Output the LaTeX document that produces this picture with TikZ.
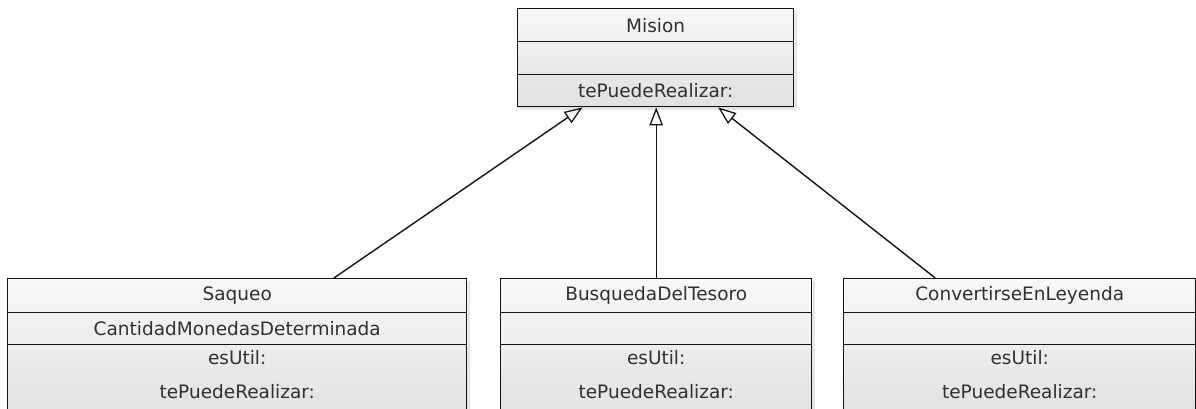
\documentclass[tikz,border=0pt]{standalone}
\usepackage{fontspec}
\setmainfont{DejaVu Sans}
\usetikzlibrary{arrows.meta,calc,backgrounds}
\definecolor{umltext}{HTML}{303030}
\definecolor{umlline}{HTML}{141414}
\definecolor{umlfilltop}{HTML}{F8F8F8}
\definecolor{umlfillbot}{HTML}{E0E0E0}
\begin{document}
\begin{tikzpicture}[x=1pt,y=-1pt,
  compart/.style={draw=umlline, line width=1.4pt, anchor=north west, inner sep=0pt,
    font=\fontsize{18.5}{21}\selectfont, text=umltext},
  oplabel/.style={inner sep=0pt, font=\fontsize{18.5}{21}\selectfont, text=umltext},
  gen/.style={draw=umlline, line width=1.4pt,
    -{Triangle[length=18pt,width=13.5pt,fill=white,line width=1.3pt]}}]
\useasboundingbox (0,0) rectangle (1196,408);

% superclass
\node[compart, minimum width=276pt, minimum height=33pt] (mision-title) at (517,8) {Mision};
\node[compart, minimum width=276pt, minimum height=33pt] (mision-attr) at (517,41) {};
\node[compart, minimum width=276pt, minimum height=32pt] (mision-ops) at (517,74) {tePuedeRealizar:};

% Saqueo
\node[compart, minimum width=459pt, minimum height=34pt] (saqueo-title) at (7,278) {Saqueo};
\node[compart, minimum width=459pt, minimum height=32pt] (saqueo-attr) at (7,312) {CantidadMonedasDeterminada};
\node[compart, minimum width=459pt, minimum height=76pt] (saqueo-ops) at (7,344) {};
\node[oplabel] (saqueo-op1) at ($(saqueo-ops.north)+(0,14)$) {esUtil:};
\node[oplabel] (saqueo-op2) at ($(saqueo-ops.north)+(0,48)$) {tePuedeRealizar:};

% BusquedaDelTesoro
\node[compart, minimum width=311pt, minimum height=34pt] (busqueda-title) at (500,278) {BusquedaDelTesoro};
\node[compart, minimum width=311pt, minimum height=32pt] (busqueda-attr) at (500,312) {};
\node[compart, minimum width=311pt, minimum height=76pt] (busqueda-ops) at (500,344) {};
\node[oplabel] (busqueda-op1) at ($(busqueda-ops.north)+(0,14)$) {esUtil:};
\node[oplabel] (busqueda-op2) at ($(busqueda-ops.north)+(0,48)$) {tePuedeRealizar:};

% ConvertirseEnLeyenda
\node[compart, minimum width=352pt, minimum height=34pt] (leyenda-title) at (843,278) {ConvertirseEnLeyenda};
\node[compart, minimum width=352pt, minimum height=32pt] (leyenda-attr) at (843,312) {};
\node[compart, minimum width=352pt, minimum height=76pt] (leyenda-ops) at (843,344) {};
\node[oplabel] (leyenda-op1) at ($(leyenda-ops.north)+(0,14)$) {esUtil:};
\node[oplabel] (leyenda-op2) at ($(leyenda-ops.north)+(0,48)$) {tePuedeRealizar:};

% shadows and gradient fill behind each class box
\begin{pgfonlayer}{background}
  \foreach \n in {mision,saqueo,busqueda,leyenda}{
    \fill[black,opacity=0.10] ($(\n-title.north west)+(3,3)$) rectangle ($(\n-ops.south east)+(3,3)$);
    \shade[top color=umlfilltop, bottom color=umlfillbot] (\n-title.north west) rectangle (\n-ops.south east);
  }
\end{pgfonlayer}

% generalisations
\draw[gen] ($(saqueo-title.north west)!0.71!(saqueo-title.north east)$)
  -- ($(mision-ops.south west)!0.236!(mision-ops.south east)$);
\draw[gen] (busqueda-title.north) -- (busqueda-title.north |- mision-ops.south);
\draw[gen] ($(leyenda-title.north west)!0.261!(leyenda-title.north east)$)
  -- ($(mision-ops.south west)!0.725!(mision-ops.south east)$);
\end{tikzpicture}
\end{document}
